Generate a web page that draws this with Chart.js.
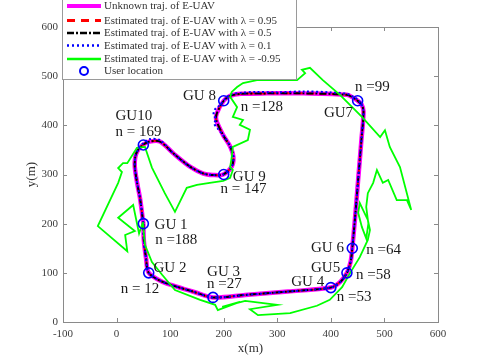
<!DOCTYPE html>
<html>
<head>
<meta charset="utf-8">
<script src="https://cdn.jsdelivr.net/npm/chart.js@4/dist/chart.umd.min.js"></script>
<style>
  html, body { margin: 0; padding: 0; background: #fff; }
  #wrap { width: 485px; height: 363px; }
</style>
</head>
<body>
<div id="wrap"><canvas id="main-chart" width="485" height="363"></canvas></div>
<script>
// ---- Data ----
const xTicks = [-100, 0, 100, 200, 300, 400, 500, 600];
const yTicks = [0, 100, 200, 300, 400, 500, 600];

// unknown (true) trajectory of the E-UAV
const truthX = [50, 51, 55, 60, 85, 112, 145, 180, 240, 320, 400, 418, 430, 437, 440, 445, 451, 457, 461, 457, 450, 442, 430, 350, 280, 232, 212, 200, 187, 186, 199, 212, 218, 215, 199, 180, 162, 137, 106, 81, 62, 50, 40, 35, 34, 38, 44, 50];
const truthY = [200, 165, 130, 100, 82, 72, 61, 50, 55, 62, 70, 82, 100, 123, 150, 210, 290, 370, 428, 443, 450, 456, 462, 465, 465, 464, 460, 450, 424, 411, 380, 357, 336, 316, 300, 299, 302, 316, 343, 367, 367, 361, 350, 336, 316, 285, 250, 200];

// lambda = 0.1 estimate (wobbles near GU 8 and GU10)
const est01X = [50, 51, 55, 60, 85, 112, 145, 180, 240, 320, 400, 418, 430, 437, 440, 445, 451, 457, 461, 457, 450, 442, 430, 400, 350, 300, 260, 232, 212, 203, 192, 184, 181, 186, 182, 190, 199, 212, 218, 215, 199, 180, 162, 137, 106, 81, 62, 50, 40, 35, 34, 38, 44, 50];
const est01Y = [200, 165, 130, 100, 82, 72, 61, 50, 55, 62, 70, 82, 100, 123, 150, 210, 290, 370, 428, 443, 452, 458, 464, 467, 469, 467, 468, 466, 462, 454, 440, 433, 422, 412, 404, 392, 380, 357, 336, 316, 300, 299, 302, 316, 343, 370, 372, 364, 350, 336, 316, 285, 250, 200];

// lambda = -0.95 estimate
const estNegX = [49, 53, 66, 85, 109, 156, 184, 189, 230, 197, 240, 300, 249, 264, 324, 374, 398, 421, 436, 454, 469, 473, 469, 460, 454, 451, 458, 466, 470, 466, 469, 479, 486, 497, 507, 523, 542, 550, 529, 510, 501, 492, 458, 417, 385, 361, 346, 352, 337, 262, 236, 225, 215, 212, 225, 217, 236, 230, 249, 245, 217, 215, 212, 217, 212, 199, 174, 150, 131, 109, 90, 66, 53, 38, 20, 12, 3, 10, 3, -35, 20, 16, 34, 3, 31, 42, 49];
const estNegY = [203, 157, 122, 96, 65, 45, 35, 24, 41, 31, 43, 35, 26, 14, 18, 33, 45, 71, 100, 132, 167, 187, 208, 228, 242, 222, 193, 170, 200, 234, 262, 283, 309, 283, 289, 248, 248, 228, 315, 356, 390, 376, 417, 462, 492, 517, 513, 506, 492, 492, 486, 478, 468, 458, 437, 417, 411, 401, 391, 370, 356, 336, 315, 309, 293, 287, 283, 279, 273, 224, 262, 314, 356, 354, 323, 323, 313, 305, 283, 195, 144, 177, 185, 212, 238, 180, 203];

// ground users
const guX = [50, 60, 180, 400, 430, 440, 450, 200, 200, 50];
const guY = [200, 100, 50, 70, 100, 150, 450, 450, 300, 360];
const guNames = ['GU 1', 'GU 2', 'GU 3', 'GU 4', 'GU5', 'GU 6', 'GU7', 'GU 8', 'GU 9', 'GU10'];
const guNameX = [71, 69, 169, 326, 363, 363, 387, 124, 217, -2];
const guNameY = [198, 110, 102, 81, 110, 150, 424, 460, 294, 418];
const stepLabels = ['n =188', 'n = 12', 'n =27', 'n =53', 'n =58', 'n =64', 'n =99', 'n =128', 'n = 147', 'n = 169'];
const stepX = [72, 8, 169, 411, 447, 466, 445, 232, 194, -2];
const stepY = [166, 67, 77, 51, 96, 146, 477, 437, 270, 387];

const legendItems = [
  'Unknown traj. of E-UAV',
  'Estimated traj. of E-UAV with λ = 0.95',
  'Estimated traj. of E-UAV with λ = 0.5',
  'Estimated traj. of E-UAV with λ = 0.1',
  'Estimated traj. of E-UAV with λ = -0.95',
  'User location'
];

const toPts = (xs, ys) => xs.map((v, i) => ({ x: v, y: ys[i] }));
const SERIF = "'Liberation Serif', 'DejaVu Serif', serif";

// ---- Decorations: box, inward ticks, labels, legend ----
const decor = {
  id: 'decor',
  afterDraw(chart) {
    const { ctx, chartArea: { left, right, top, bottom }, scales: { x, y } } = chart;
    ctx.save();
    ctx.strokeStyle = '#8a8a8a';
    ctx.lineWidth = 1;
    ctx.strokeRect(left + .5, top + .5, right - left, bottom - top);
    ctx.beginPath();
    xTicks.forEach(v => {
      const p = Math.round(x.getPixelForValue(v)) + .5;
      ctx.moveTo(p, bottom); ctx.lineTo(p, bottom - 4);
      ctx.moveTo(p, top); ctx.lineTo(p, top + 4);
    });
    yTicks.forEach(v => {
      const p = Math.round(y.getPixelForValue(v)) + .5;
      ctx.moveTo(left, p); ctx.lineTo(left + 4, p);
      ctx.moveTo(right, p); ctx.lineTo(right - 4, p);
    });
    ctx.stroke();

    // GU / step labels
    ctx.fillStyle = '#1a1a1a';
    ctx.font = '15px ' + SERIF;
    ctx.textBaseline = 'middle';
    ctx.textAlign = 'left';
    guNames.forEach((t, i) => ctx.fillText(t, x.getPixelForValue(guNameX[i]), y.getPixelForValue(guNameY[i])));
    stepLabels.forEach((t, i) => ctx.fillText(t, x.getPixelForValue(stepX[i]), y.getPixelForValue(stepY[i])));

    // axis titles
    ctx.fillStyle = '#333';
    ctx.font = '13px ' + SERIF;
    ctx.textAlign = 'center';
    ctx.fillText('x(m)', (left + right) / 2, 349);
    ctx.save();
    ctx.translate(32, (top + bottom) / 2);
    ctx.rotate(-Math.PI / 2);
    ctx.fillText('y(m)', 0, 0);
    ctx.restore();

    // legend box
    ctx.fillStyle = '#fff';
    ctx.fillRect(62, -1, 234, 81);
    ctx.strokeStyle = '#9a9a9a';
    ctx.strokeRect(62.5, -1.5, 234, 81);
    const rows = [6, 20.5, 33, 45.5, 59, 71];
    const styles = [
      { c: '#ff00ff', w: 4, d: [] },
      { c: '#ff0000', w: 3, d: [8, 6] },
      { c: '#000000', w: 2.5, d: [7, 2, 2, 2] },
      { c: '#0000ff', w: 2.5, d: [2, 3] },
      { c: '#00ff00', w: 2.5, d: [] }
    ];
    styles.forEach((s, i) => {
      ctx.strokeStyle = s.c;
      ctx.lineWidth = s.w;
      ctx.setLineDash(s.d);
      ctx.beginPath();
      ctx.moveTo(67, rows[i]);
      ctx.lineTo(101, rows[i]);
      ctx.stroke();
    });
    ctx.setLineDash([]);
    ctx.strokeStyle = '#0000ff';
    ctx.lineWidth = 2;
    ctx.beginPath();
    ctx.arc(84, rows[5], 4, 0, Math.PI * 2);
    ctx.stroke();
    ctx.fillStyle = '#333';
    ctx.font = '11px ' + SERIF;
    ctx.textAlign = 'left';
    legendItems.forEach((t, i) => ctx.fillText(t, 104, rows[i] + 0.5));
    ctx.restore();
  }
};

const lineSet = (label, xs, ys, color, width, dash, order, tension) => ({
  label,
  data: toPts(xs, ys),
  showLine: true,
  borderColor: color,
  backgroundColor: color,
  borderWidth: width,
  borderDash: dash,
  pointRadius: 0,
  tension,
  order
});

new Chart(document.getElementById('main-chart'), {
  type: 'scatter',
  data: {
    datasets: [
      {
        label: 'User location',
        data: toPts(guX, guY),
        pointStyle: 'circle',
        pointRadius: 5,
        pointBorderWidth: 1.6,
        pointBorderColor: '#0000ff',
        pointBackgroundColor: 'rgba(0,0,0,0)',
        order: 0
      },
      lineSet('lambda -0.95', estNegX, estNegY, '#00ff00', 1.8, [], 1, 0),
      lineSet('lambda 0.1', est01X, est01Y, '#0000ff', 2, [2, 2.5], 2, 0.3),
      // the 0.95 and 0.5 estimates sit on the true path at this scale
      lineSet('lambda 0.5', truthX, truthY, '#000000', 2, [7, 2, 2, 2], 3, 0.3),
      lineSet('lambda 0.95', truthX, truthY, '#ff0000', 2, [7, 5], 4, 0.3),
      lineSet('Unknown traj.', truthX, truthY, '#ff00ff', 4.5, [], 5, 0.3)
    ]
  },
  options: {
    responsive: false,
    animation: false,
    devicePixelRatio: 1,
    layout: { padding: { top: 27, right: 47, left: 0, bottom: 0 } },
    plugins: { legend: { display: false }, tooltip: { enabled: false } },
    scales: {
      x: {
        type: 'linear',
        min: -100, max: 600,
        afterBuildTicks: s => { s.ticks = xTicks.map(v => ({ value: v })); },
        afterFit: s => { s.height = 41; },
        grid: { display: false, drawTicks: false },
        border: { display: false },
        ticks: {
          color: '#3c3c3c',
          font: { family: SERIF, size: 11 },
          padding: 6,
          maxRotation: 0
        }
      },
      y: {
        type: 'linear',
        min: 0, max: 600,
        afterBuildTicks: s => { s.ticks = yTicks.map(v => ({ value: v })); },
        afterFit: s => { s.width = 63; },
        grid: { display: false, drawTicks: false },
        border: { display: false },
        ticks: {
          color: '#3c3c3c',
          font: { family: SERIF, size: 11 },
          padding: 5
        }
      }
    }
  },
  plugins: [decor]
});
</script>
</body>
</html>
